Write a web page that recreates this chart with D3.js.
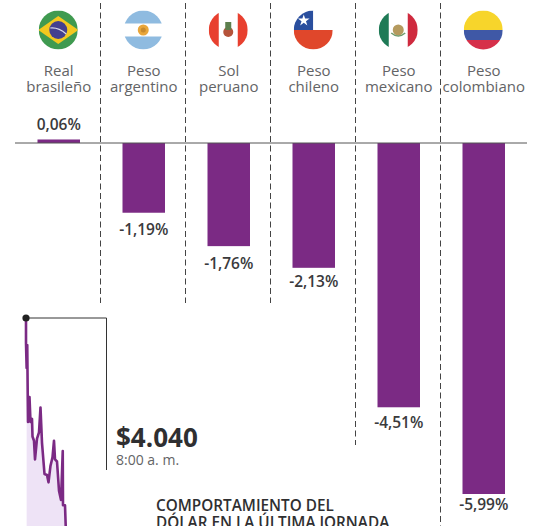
<!DOCTYPE html>
<html>
<head>
<meta charset="utf-8">
<script src="https://cdn.jsdelivr.net/npm/d3@7"></script>
<style>
  html, body { margin: 0; padding: 0; background: #fff; }
  svg { display: block; font-family: "Open Sans", sans-serif; }
</style>
</head>
<body>
<svg id="chart" width="534" height="526"></svg>
<script>
// currencies, % change
var flags = ['br', 'ar', 'pe', 'cl', 'mx', 'co']
var line1 = ['Real', 'Peso', 'Sol', 'Peso', 'Peso', 'Peso']
var line2 = ['brasileño', 'argentino', 'peruano', 'chileno', 'mexicano', 'colombiano']
var changes = [0.06, -1.19, -1.76, -2.13, -4.51, -5.99]
var changeLabels = ['0,06%', '-1,19%', '-1,76%', '-2,13%', '-4,51%', '-5,99%']

// dollar during the day: minutes after 8:00, price
var minutes = [0, 0, 0.5, 1, 1.4, 1.6, 2.8, 3.6, 4.8, 5.2, 6.4, 7.2, 8.8, 10.4, 11.6, 12.8, 14.8, 16.8, 18, 19.6, 21.2, 22.4, 23.2, 24.8, 26.4, 28, 29.4, 29.6, 31.2, 32]
var prices = [4040, 4028, 4016, 4027, 4002, 3990, 4002, 3990, 3991.5, 3983, 3981, 3972, 3982, 3985, 3997, 3980, 3965, 3964.5, 3961, 3969, 3973, 3981, 3972, 3971, 3957, 3952.5, 3976, 3950, 3950, 3936]

var purple = '#7b2a84'
var svg = d3.select('#chart')

var x = d3.scaleBand().domain(flags).range([-5, 547.5]).padding(0.5)
var y = d3.scaleLinear().domain([0, -5.99]).range([143, 494])

// dashed separators, each one ends at its own height
var sepEnds = [303, 303, 303, 445, 526]
svg.selectAll('.sep').data(flags.slice(1)).enter().append('line')
  .attr('class', 'sep')
  .attr('x1', d => x(d) - 22)
  .attr('x2', d => x(d) - 22)
  .attr('y1', 3)
  .attr('y2', (d, i) => sepEnds[i])
  .attr('stroke', '#444')
  .attr('stroke-width', 1)
  .attr('stroke-dasharray', '6 3.5')

// bars
svg.selectAll('.bar').data(changes).enter().append('rect')
  .attr('class', 'bar')
  .attr('x', (d, i) => x(flags[i]))
  .attr('width', x.bandwidth())
  .attr('y', d => Math.min(y(d), y(0)))
  .attr('height', d => Math.abs(y(d) - y(0)))
  .attr('fill', purple)

svg.append('line').attr('x1', 15).attr('x2', 527).attr('y1', 143).attr('y2', 143)
  .attr('stroke', '#555').attr('stroke-width', 1)

// value labels were placed by hand in the original, gaps differ
var labelGap = [-13, 22, 23, 19, 21, 16]
svg.selectAll('.val').data(changeLabels).enter().append('text')
  .attr('class', 'val')
  .attr('x', (d, i) => x(flags[i]) + x.bandwidth() / 2)
  .attr('y', (d, i) => y(Math.min(changes[i], 0)) + labelGap[i])
  .attr('text-anchor', 'middle')
  .attr('font-size', 15.5)
  .attr('font-weight', 600)
  .attr('fill', '#3a3a3c')
  .text(d => d)

// currency names
var names = svg.selectAll('.name').data(flags).enter().append('text')
  .attr('class', 'name')
  .attr('text-anchor', 'middle')
  .attr('font-size', 15)
  .attr('fill', '#636466')
names.append('tspan').attr('x', d => x(d) + x.bandwidth() / 2).attr('y', 76).text((d, i) => line1[i])
names.append('tspan').attr('x', d => x(d) + x.bandwidth() / 2).attr('y', 92).text((d, i) => line2[i])

// flags
var R = 19.5
var defs = svg.append('defs')
defs.append('clipPath').attr('id', 'disc').append('circle').attr('r', R)

var flagG = svg.selectAll('.flag').data(flags).enter().append('g')
  .attr('class', 'flag')
  .attr('transform', d => 'translate(' + (x(d) + x.bandwidth() / 2 - 0.5) + ',30)')
var inner = flagG.append('g').attr('clip-path', 'url(#disc)')

function band (g, x0, y0, w, h, fill) {
  g.append('rect').attr('x', x0).attr('y', y0).attr('width', w).attr('height', h).attr('fill', fill)
}

inner.each(function (d) {
  var g = d3.select(this)
  if (d === 'br') {
    band(g, -R, -R, 2 * R, 2 * R, '#3f9a50')
    g.append('path').attr('d', 'M-20,0L0,-14L20,0L0,14Z').attr('fill', '#f3c81f')
    g.append('circle').attr('r', 9).attr('fill', '#44408f')
    g.append('path').attr('d', 'M-8,-2Q0,-3 8,4').attr('fill', 'none').attr('stroke', '#d8d8e8').attr('stroke-width', 1.2)
  } else if (d === 'ar') {
    band(g, -R, -R, 2 * R, 13, '#8fbbe0')
    band(g, -R, 6.5, 2 * R, 13, '#8fbbe0')
    g.append('circle').attr('r', 5.5).attr('fill', '#e9a63a')
    g.append('circle').attr('r', 2.5).attr('fill', '#c98a2c')
  } else if (d === 'pe') {
    band(g, -R, -R, 10, 2 * R, '#e8402f')
    band(g, 9.5, -R, 10, 2 * R, '#e8402f')
    g.append('circle').attr('r', 5).attr('cy', 2).attr('fill', '#b5533a')
    g.append('rect').attr('x', -3).attr('y', -8).attr('width', 6).attr('height', 8).attr('fill', '#5d7f4e')
  } else if (d === 'cl') {
    band(g, -R, -R, R, R, '#2a4f9e')
    band(g, 0, -R, R, R, '#ffffff')
    band(g, -R, 0, 2 * R, R, '#e0472b')
    g.append('path').attr('d', d3.symbol().type(d3.symbolStar).size(42)).attr('transform', 'translate(-9.5,-9.5)').attr('fill', '#fff')
  } else if (d === 'mx') {
    band(g, -R, -R, 10, 2 * R, '#1f7a56')
    band(g, 9.5, -R, 10, 2 * R, '#cf2a3e')
    g.append('circle').attr('r', 5.5).attr('fill', '#b59a5e')
    g.append('path').attr('d', 'M-7,3Q0,9 7,3').attr('fill', 'none').attr('stroke', '#6f9a6a').attr('stroke-width', 1.5)
  } else {
    band(g, -R, -R, 2 * R, R, '#f7d52b')
    band(g, -R, 0, 2 * R, 10, '#3f58a6')
    band(g, -R, 10, 2 * R, 10, '#d6304a')
  }
})

// intraday dollar
var tx = d3.scaleLinear().domain([0, 32]).range([26, 66])
var py = d3.scaleLinear().domain([4040, 3940]).range([318, 526])
var series = d3.zip(minutes, prices)

var area = d3.area().x(d => tx(d[0])).y0(py(3900)).y1(d => py(d[1]))
svg.append('path').datum(series.slice(2))
  .attr('d', area)
  .attr('fill', '#eee3f6')

svg.append('path').datum(series)
  .attr('d', d3.line().x(d => tx(d[0])).y(d => py(d[1])))
  .attr('fill', 'none')
  .attr('stroke', purple)
  .attr('stroke-width', 2.6)
  .attr('stroke-linejoin', 'round')

// leader for the opening price
svg.append('path')
  .attr('d', 'M' + tx(0) + ',' + py(4040) + 'H106.5V470')
  .attr('fill', 'none')
  .attr('stroke', '#333')
  .attr('stroke-width', 1)
svg.append('circle').attr('cx', tx(0)).attr('cy', py(4040)).attr('r', 3.6).attr('fill', '#222')

svg.append('text').attr('x', 116).attr('y', 447)
  .attr('font-size', 26).attr('font-weight', 700).attr('fill', '#2f2f31').text('$4.040')
svg.append('text').attr('x', 116).attr('y', 465)
  .attr('font-size', 14).attr('fill', '#636466').text('8:00 a. m.')

svg.append('text').attr('x', 156).attr('y', 511)
  .attr('font-size', 15.3).attr('font-weight', 600).attr('fill', '#2f2f31').text('COMPORTAMIENTO DEL')
svg.append('text').attr('x', 156).attr('y', 527.5)
  .attr('font-size', 15.3).attr('font-weight', 600).attr('fill', '#2f2f31').text('DÓLAR EN LA ÚLTIMA JORNADA')
</script>
</body>
</html>
